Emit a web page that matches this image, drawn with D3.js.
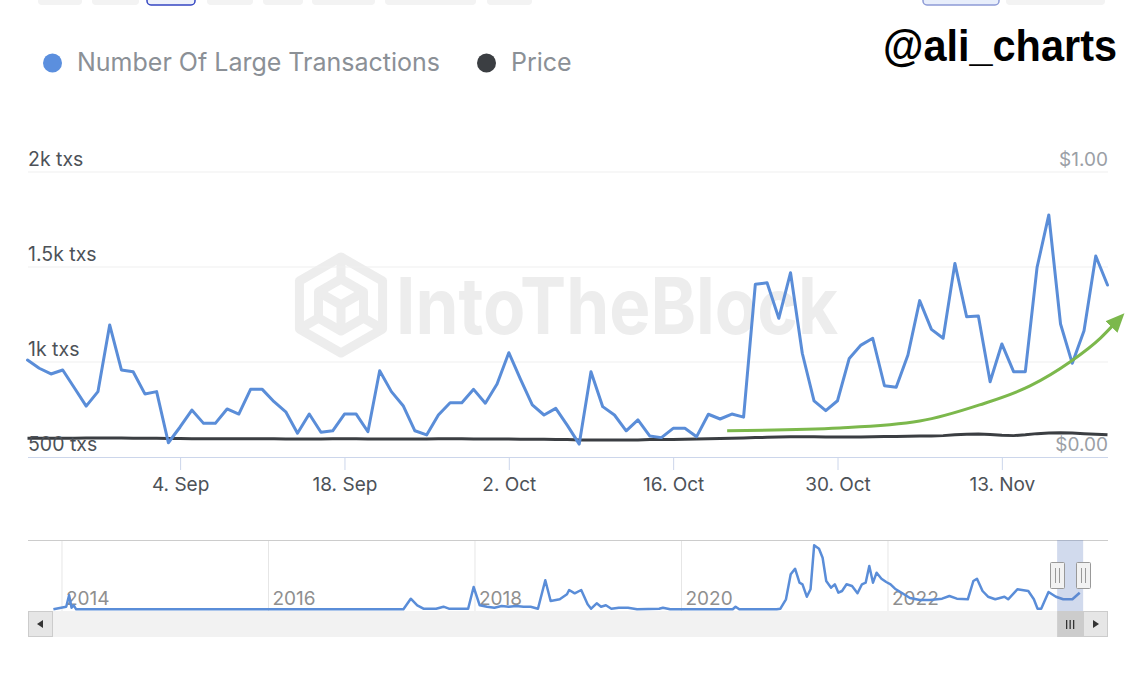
<!DOCTYPE html>
<html><head><meta charset="utf-8">
<script src="https://cdn.jsdelivr.net/npm/d3@7"></script>
<style>body{margin:0;background:#fff;} svg{display:block;}</style>
</head><body><svg id="c" width="1136" height="694"></svg>
<script>
// ---------- DATA ----------
const startDay = "2023-08-22";
const endDay = "2023-11-22";
const largeTx = [1010,967,937,958,863,768,844,1195,958,949,832,844,575,658,747,677,677,753,726,856,856,791,738,625,726,630,638,726,726,633,954,844,770,638,616,721,786,786,856,783,884,1049,909,774,721,756,665,568,949,765,721,638,695,611,602,651,651,607,725,700,726,710,1409,1417,1230,1470,1046,795,744,796,1019,1089,1125,875,867,1037,1323,1172,1125,1519,1238,1242,896,1095,949,949,1498,1774,1200,993,1165,1558,1405];
const price = [0.066,0.066,0.066,0.066,0.066,0.067,0.067,0.067,0.067,0.066,0.066,0.066,0.065,0.065,0.064,0.064,0.064,0.064,0.064,0.064,0.064,
 0.064,0.063,0.063,0.063,0.063,0.064,0.064,0.064,0.063,0.063,0.063,0.063,0.063,0.063,0.064,0.064,0.064,0.063,0.063,0.063,
 0.063,0.062,0.062,0.062,0.061,0.061,0.060,0.060,0.060,0.060,0.060,0.060,0.061,0.061,0.061,0.062,0.063,0.064,0.065,0.066,
 0.067,0.068,0.069,0.070,0.071,0.071,0.071,0.070,0.070,0.070,
 0.070,0.071,0.072,0.072,0.073,0.074,0.074,0.075,0.078,0.080,
 0.081,0.079,0.076,0.075,0.078,0.082,0.084,0.085,0.084,0.082,0.080,0.078];
const xTickDates = ["2023-09-04","2023-09-18","2023-10-02","2023-10-16","2023-10-30","2023-11-13"];
const leftTicks = [500,1000,1500,2000];
const leftTickLabels = ["500 txs","1k txs","1.5k txs","2k txs"];
const rightTicks = [0,1];
const rightTickLabels = ["$0.00","$1.00"];
const seriesNames = ["Number Of Large Transactions","Price"];
// annotation arrow (day offset from start, txs value)
const arrowDays = [59.6,69.2,76.0,81.1,85.4,88.8,91.4,92.4];
const arrowVals = [638,653,689,774,874,1000,1126,1189];
// navigator (decimal year, txs)
const navYears = [2013.917,2014.041,2014.069,2014.093,2014.114,2014.138,2017.307,2017.378,2017.441,2017.501,2017.624,2017.695,2017.747,2017.934,2017.987,2018.046,2018.117,2018.188,2018.258,2018.328,2018.399,2018.470,2018.539,2018.610,2018.681,2018.733,2018.821,2018.891,2018.912,2018.966,2019.029,2019.091,2019.125,2019.179,2019.221,2019.268,2019.321,2019.393,2019.482,2019.570,2019.784,2019.820,2019.891,2020.496,2020.524,2020.560,2020.922,2020.958,2021.012,2021.058,2021.100,2021.143,2021.172,2021.214,2021.250,2021.285,2021.332,2021.367,2021.402,2021.449,2021.485,2021.520,2021.555,2021.599,2021.652,2021.705,2021.748,2021.784,2021.819,2021.855,2021.890,2021.937,2021.983,2022.025,2022.068,2022.136,2022.213,2022.310,2022.407,2022.524,2022.595,2022.667,2022.773,2022.827,2022.862,2022.916,2022.969,2023.039,2023.128,2023.164,2023.253,2023.359,2023.413,2023.449,2023.484,2023.555,2023.627,2023.697,2023.786,2023.857];
const navValues = [56,264,1176,184,376,56,56,904,376,104,104,264,104,104,1840,376,264,184,320,264,320,264,264,104,2376,720,856,1256,1600,1336,1600,456,104,536,264,376,104,184,184,56,104,184,56,56,264,56,56,104,856,2856,3304,2184,2056,1064,1656,5176,4904,4184,2320,1784,2056,1384,1520,2056,1920,1336,2056,2184,3520,2184,2984,2504,2240,2056,1704,1360,960,800,800,904,1120,904,856,2320,2504,1520,1064,856,1064,856,1656,1520,856,104,104,1440,1064,856,856,1384];
const navTickYears = [2014,2016,2018,2020,2022];

// ---------- SETUP ----------
const svg = d3.select("#c");
const FONT = "Inter, 'Noto Sans', sans-serif";
const parse = d3.timeParse("%Y-%m-%d");
const dates = d3.timeDay.range(parse(startDay), d3.timeDay.offset(parse(endDay),1));
const txData = dates.map((d,i)=>({date:d, v:largeTx[i]}));
const prData = dates.map((d,i)=>({date:d, v:price[i]}));

const plot = {l:28, r:1108, t:172, b:457};
const x = d3.scaleTime().domain([dates[0], dates[dates.length-1]]).range([27.5, 1107.5]);
const yL = d3.scaleLinear().domain([500,2000]).range([plot.b, plot.t]);
const yR = d3.scaleLinear().domain([0,1]).range([plot.b, plot.t]);

// ---------- top range buttons (cut off) ----------
const topButtons = [[38,82,0],[92,139,0],[147,195,1],[207,253,0],[263,303,0],[312,375,0],[385,476,0],[487,532,0],[923,999,2],[1006,1105,0]];
svg.append("g").selectAll("rect").data(topButtons).join("rect")
  .attr("x",d=>d[0]).attr("y",-20).attr("width",d=>d[1]-d[0]).attr("height",25).attr("rx",4)
  .attr("fill",d=>d[2]===1?"#eef1fa":d[2]===2?"#e8eefb":"#f3f3f3")
  .attr("stroke",d=>d[2]===1?"#3446c2":d[2]===2?"#8d9bd6":"none").attr("stroke-width",1.5);

// ---------- legend ----------
const legendColors = ["#5b8fde","#3b3e42"];
const legX = [52.5, 486.5];
const lg = svg.append("g");
seriesNames.forEach((n,i)=>{
  lg.append("circle").attr("cx",legX[i]).attr("cy",63).attr("r",9.5).attr("fill",legendColors[i]);
  lg.append("text").attr("x",legX[i]+24.5).attr("y",70.5).text(n)
    .attr("font-family",FONT).attr("font-size",25).attr("fill","#8b9096");
});

// handle
svg.append("text").attr("x",883).attr("y",61).text("@ali_charts")
  .attr("font-family","'Liberation Sans', Arial, sans-serif").attr("font-weight","bold")
  .attr("font-size",45).attr("textLength",234).attr("lengthAdjust","spacingAndGlyphs").attr("fill","#000");

// ---------- watermark ----------
const wm = svg.append("g").attr("fill","none").attr("stroke","#ededed").attr("stroke-width",9).attr("stroke-linejoin","round");
const cx0=341, cy0=305, R=48;
const hex = d3.range(6).map(k=>{const a=Math.PI/180*(60*k-90);return [cx0+R*Math.cos(a), cy0+R*Math.sin(a)];});
wm.append("path").attr("d","M"+hex.map(p=>p.join(",")).join("L")+"Z");
const r2=26;
const hin = d3.range(6).map(k=>{const a=Math.PI/180*(60*k-90);return [cx0+r2*Math.cos(a), cy0+r2*Math.sin(a)];});
wm.append("path").attr("d",`M${hin[0]}L${hin[1]}L${hin[2]}L${hin[3]}L${hin[4]}L${hin[5]}Z`);
wm.append("path").attr("d",`M${hex[0]}L${hin[0]}M${hex[2]}L${hin[2]}M${hex[4]}L${hin[4]}M${cx0},${cy0}L${hin[1]}M${cx0},${cy0}L${hin[3]}M${cx0},${cy0}L${hin[5]}`);
svg.append("text").attr("x",396).attr("y",334).text("IntoTheBlock")
  .attr("font-family","Inter, 'Liberation Sans', sans-serif").attr("font-weight",700)
  .attr("font-size",78).attr("textLength",442).attr("lengthAdjust","spacingAndGlyphs").attr("fill","#ededed");

// ---------- grid ----------
svg.append("g").selectAll("line").data(leftTicks.filter(t=>t!==500)).join("line")
  .attr("x1",plot.l).attr("x2",plot.r).attr("y1",d=>yL(d)).attr("y2",d=>yL(d))
  .attr("stroke","#efefef").attr("stroke-width",1);

// x axis
const xAxis = d3.axisBottom(x).tickValues(xTickDates.map(parse)).tickSize(13).tickSizeOuter(0)
  .tickFormat(d3.timeFormat("%-d. %b"));
const xg = svg.append("g").attr("transform",`translate(0,${plot.b})`).call(xAxis);
xg.select(".domain").attr("stroke","#ccd6eb").attr("d",`M${plot.l},0.5H${plot.r}`);
xg.selectAll(".tick line").attr("stroke","#ccd6eb");
xg.selectAll(".tick text").attr("y",34).attr("dy",0).attr("font-family",FONT).attr("font-size",19).attr("fill","#4d5258");

// ---------- series ----------
svg.append("path").datum(prData).attr("fill","none").attr("stroke","#3b3e42").attr("stroke-width",3)
  .attr("stroke-linejoin","round")
  .attr("d",d3.line().x(d=>x(d.date)).y(d=>yR(d.v)));
svg.append("path").datum(txData).attr("fill","none").attr("stroke","#5a8dd8").attr("stroke-width",3)
  .attr("stroke-linejoin","round").attr("stroke-linecap","round")
  .attr("d",d3.line().x(d=>x(d.date)).y(d=>yL(d.v)));

// arrow annotation
const defs = svg.append("defs");
defs.append("marker").attr("id","ah").attr("markerUnits","userSpaceOnUse").attr("markerWidth",20).attr("markerHeight",20)
  .attr("viewBox","0 -8 18 16").attr("refX",1).attr("refY",0).attr("orient","auto")
  .append("path").attr("d","M0,-7.5L17,0L0,7.5Z").attr("fill","#7cb84c");
const arrowPts = arrowDays.map((d,i)=>({date:d3.timeMinute.offset(dates[0], Math.round(d*1440)), v:arrowVals[i]}));
svg.append("path").datum(arrowPts).attr("fill","none").attr("stroke","#7cb84c").attr("stroke-width",3)
  .attr("marker-end","url(#ah)")
  .attr("d",d3.line().curve(d3.curveMonotoneX).x(d=>x(d.date)).y(d=>yL(d.v)));

// ---------- axis labels ----------
svg.append("g").selectAll("text").data(leftTicks).join("text")
  .attr("x",plot.l).attr("y",d=>yL(d)-6).text((d,i)=>leftTickLabels[i])
  .attr("font-family",FONT).attr("font-size",19.5).attr("fill","#4d5258");
svg.append("g").selectAll("text").data(rightTicks).join("text")
  .attr("x",plot.r).attr("y",d=>yR(d)-6).attr("text-anchor","end").text((d,i)=>rightTickLabels[i])
  .attr("font-family",FONT).attr("font-size",19).attr("fill","#9ba0a6");

// ---------- navigator ----------
const nav = {l:28, r:1108, t:540, b:611};
const nx = d3.scaleLinear().domain([2013.671, 2024.131]).range([nav.l, nav.r]);
const ny = d3.scaleLinear().domain([0,5200]).range([610,545]);
const ng = svg.append("g");
ng.selectAll("line.g").data(navTickYears).join("line").attr("class","g")
  .attr("x1",d=>nx(d)).attr("x2",d=>nx(d)).attr("y1",nav.t).attr("y2",nav.b).attr("stroke","#e6e6e6");
ng.append("line").attr("x1",nav.l).attr("x2",nav.r).attr("y1",nav.t+0.5).attr("y2",nav.t+0.5).attr("stroke","#cccccc");
ng.selectAll("text").data(navTickYears).join("text").attr("x",d=>nx(d)+4).attr("y",605).text(d=>d)
  .attr("font-family",FONT).attr("font-size",19).attr("fill","#8f8f8f");
const navPts = navYears.map((y,i)=>({y, v:navValues[i]}));
ng.append("path").datum(navPts).attr("fill","none").attr("stroke","#5a8dd8").attr("stroke-width",2.5)
  .attr("stroke-linejoin","round").attr("d",d3.line().x(d=>nx(d.y)).y(d=>ny(d.v)));
const yearFrac = d => d.getFullYear() + d3.timeDay.count(d3.timeYear(d), d)/365;
const s1 = nx(yearFrac(dates[0])), s2 = nx(yearFrac(dates[dates.length-1]));
ng.append("rect").attr("x",s1).attr("y",nav.t).attr("width",s2-s1).attr("height",nav.b-nav.t).attr("fill","rgba(102,133,194,0.3)");
[s1,s2].forEach(sx=>{
  ng.append("rect").attr("x",Math.round(sx)-7+0.5).attr("y",562.5).attr("width",14).attr("height",26).attr("rx",1)
    .attr("fill","#f2f2f2").attr("stroke","#999");
  ng.append("path").attr("d",`M${Math.round(sx)-1.5},568V583M${Math.round(sx)+2.5},568V583`).attr("stroke","#999").attr("stroke-width",1);
});
// scrollbar
const sb = svg.append("g");
sb.append("rect").attr("x",nav.l).attr("y",611).attr("width",nav.r-nav.l).attr("height",26).attr("fill","#f2f2f2");
sb.append("rect").attr("x",s1).attr("y",611).attr("width",s2-s1+1).attr("height",26).attr("fill","#cccccc");
const gc = (s1+s2)/2;
sb.append("path").attr("d",`M${gc-3.5},620V629M${gc},620V629M${gc+3.5},620V629`).attr("stroke","#333").attr("stroke-width",1.3);
sb.append("rect").attr("x",nav.l+0.5).attr("y",611.5).attr("width",24).attr("height",25).attr("fill","#e6e6e6").attr("stroke","#cccccc");
sb.append("rect").attr("x",nav.r-24.5).attr("y",611.5).attr("width",24).attr("height",25).attr("fill","#e6e6e6").attr("stroke","#cccccc");
sb.append("path").attr("d",`M37,624L43,620V628Z`).attr("fill","#333");
sb.append("path").attr("d",`M${nav.r-9},624L${nav.r-15},620V628Z`).attr("fill","#333");
</script></body></html>
